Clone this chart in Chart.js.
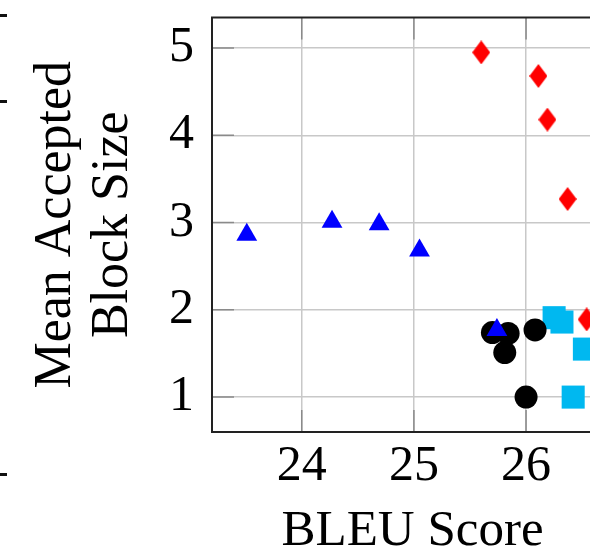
<!DOCTYPE html>
<html>
<head>
<meta charset="utf-8">
<script src="https://cdn.jsdelivr.net/npm/chart.js@4/dist/chart.umd.min.js"></script>
<style>
  html, body { margin: 0; padding: 0; background: #fff; overflow: hidden; }
  #wrap { position: relative; width: 590px; height: 560px; overflow: hidden; }
  #plot { position: absolute; left: 0; top: 0; width: 613px; height: 560px; }
  .edge { position: absolute; left: 0; width: 7px; height: 3px; background: #111; }
</style>
</head>
<body>
<div id="wrap">
  <canvas id="plot" width="613" height="560"></canvas>
  <div class="edge" style="top:14px"></div>
  <div class="edge" style="top:100px"></div>
  <div class="edge" style="top:473px"></div>
</div>
<script>
// Axis ticks
const bleuTicks = [24, 25, 26];
const blockTicks = [1, 2, 3, 4, 5];

// Series: BLEU score (x) and mean accepted block size (y)
const diamondBleu  = [25.60, 26.11, 26.19, 26.37, 26.54];
const diamondBlock = [4.95, 4.68, 4.18, 3.27, 1.89];

const triangleBleu  = [23.51, 24.27, 24.69, 25.05, 25.74];
const triangleBlock = [2.86, 3.01, 2.98, 2.68, 1.77];

const circleBleu  = [25.70, 25.84, 25.81, 26.08, 26.00];
const circleBlock = [1.74, 1.73, 1.51, 1.77, 1.00];

const squareBleu  = [26.25, 26.32, 26.52, 26.42];
const squareBlock = [1.91, 1.86, 1.55, 1.00];

const pairs = (xs, ys) => xs.map((x, i) => ({ x: x, y: ys[i] }));

// Tall diamond marker
function diamondMark(w, h, color) {
  const c = document.createElement('canvas');
  c.width = w; c.height = h;
  const g = c.getContext('2d');
  g.fillStyle = color;
  g.beginPath();
  g.moveTo(w / 2, 0);
  g.lineTo(w, h / 2);
  g.lineTo(w / 2, h);
  g.lineTo(0, h / 2);
  g.closePath();
  g.fill();
  return c;
}

const SERIF = "'Liberation Serif', 'DejaVu Serif', serif";
const TICK_IN = 22;

// Frame around the plot area and inward-pointing tick marks on all four sides
const framePlugin = {
  id: 'frame',
  beforeDatasetsDraw(chart) {
    const { ctx, chartArea: a, scales } = chart;
    ctx.save();
    ctx.strokeStyle = '#8a8a8a';
    ctx.lineWidth = 1.5;
    ctx.beginPath();
    bleuTicks.forEach(v => {
      const px = scales.x.getPixelForValue(v);
      ctx.moveTo(px, a.top); ctx.lineTo(px, a.top + TICK_IN);
      ctx.moveTo(px, a.bottom); ctx.lineTo(px, a.bottom - TICK_IN);
    });
    blockTicks.forEach(v => {
      const py = scales.y.getPixelForValue(v);
      ctx.moveTo(a.left, py); ctx.lineTo(a.left + TICK_IN, py);
      ctx.moveTo(a.right, py); ctx.lineTo(a.right - TICK_IN, py);
    });
    ctx.stroke();
    ctx.restore();
  },
  afterDraw(chart) {
    const { ctx, chartArea: a } = chart;
    ctx.save();
    ctx.strokeStyle = '#222';
    ctx.lineWidth = 2;
    ctx.strokeRect(a.left, a.top, a.right - a.left, a.bottom - a.top);
    ctx.restore();
  }
};

new Chart(document.getElementById('plot'), {
  type: 'scatter',
  data: {
    datasets: [
      {
        label: 'triangles',
        data: pairs(triangleBleu, triangleBlock),
        pointStyle: 'triangle',
        pointRadius: 12,
        pointHoverRadius: 12,
        backgroundColor: '#0000ff',
        borderWidth: 0,
        order: 1
      },
      {
        label: 'circles',
        data: pairs(circleBleu, circleBlock),
        pointStyle: 'circle',
        pointRadius: 11.5,
        pointHoverRadius: 11.5,
        backgroundColor: '#000000',
        borderWidth: 0,
        order: 2
      },
      {
        label: 'diamonds',
        data: pairs(diamondBleu, diamondBlock),
        pointStyle: diamondMark(18, 24, '#ff0000'),
        pointRadius: 12,
        backgroundColor: '#ff0000',
        borderWidth: 0,
        order: 3
      },
      {
        label: 'squares',
        data: pairs(squareBleu, squareBlock),
        pointStyle: 'rect',
        pointRadius: 16.3,
        pointHoverRadius: 16.3,
        backgroundColor: '#00b8f0',
        borderWidth: 0,
        order: 4
      }
    ]
  },
  options: {
    responsive: false,
    animation: false,
    devicePixelRatio: 1,
    clip: false,
    layout: { autoPadding: false, padding: { top: 17.5, right: 0, left: 0, bottom: 0 } },
    plugins: {
      legend: { display: false },
      tooltip: { enabled: false }
    },
    scales: {
      x: {
        type: 'linear',
        min: 23.2,
        max: 26.775,
        afterBuildTicks: s => { s.ticks = bleuTicks.map(v => ({ value: v })); },
        afterFit: s => { s.height = 128; s.paddingLeft = 0; s.paddingRight = 0; },
        border: { display: false },
        grid: { color: '#c8c8c8', lineWidth: 1.5, drawTicks: false },
        ticks: {
          padding: 5,
          color: '#000',
          font: { family: SERIF, size: 50 },
          maxRotation: 0,
          autoSkip: false
        },
        title: {
          display: true,
          text: 'BLEU Score',
          color: '#000',
          font: { family: SERIF, size: 51, lineHeight: 1.1 },
          padding: { top: 0, bottom: 0 }
        }
      },
      y: {
        type: 'linear',
        min: 0.6,
        max: 5.35,
        afterBuildTicks: s => { s.ticks = blockTicks.map(v => ({ value: v })); },
        afterFit: s => { s.width = 212; s.paddingTop = 0; s.paddingBottom = 0; },
        border: { display: false },
        grid: { color: '#c8c8c8', lineWidth: 1.5, drawTicks: false },
        ticks: {
          padding: 18,
          color: '#000',
          font: { family: SERIF, size: 50 }
        },
        title: {
          display: true,
          text: ['Mean Accepted', 'Block Size'],
          color: '#000',
          font: { family: SERIF, size: 52, lineHeight: 1.1 },
          padding: { top: 28, bottom: 0 }
        }
      }
    }
  },
  plugins: [framePlugin]
});
</script>
</body>
</html>
